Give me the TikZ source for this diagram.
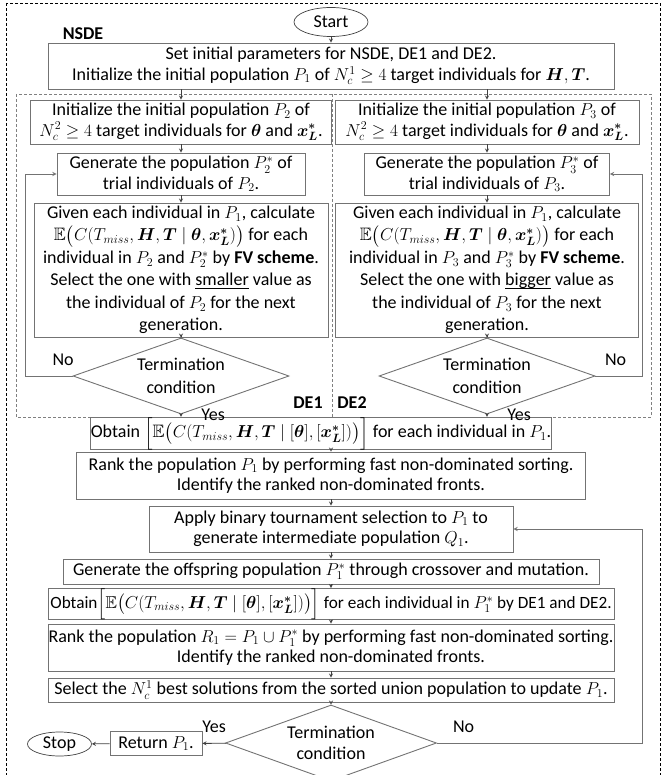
\documentclass[tikz,border=0pt]{standalone}
\usepackage{amsmath,amssymb,bm}
\usepackage{fontspec}
\setmainfont{Carlito}
\usetikzlibrary{shapes.geometric}

\begin{document}
\fontsize{18}{20.5}\selectfont
\begin{tikzpicture}[x=1pt, y=-1pt, >=stealth,
    box/.style={draw=black!55, line width=0.9pt, align=center, inner sep=0pt},
    tall/.style={font=\fontsize{18}{22.5}\selectfont},
    oval/.style={ellipse, draw=black!75, line width=0.7pt, inner sep=0pt},
    cond/.style={diamond, draw=black!55, line width=0.9pt, inner sep=0pt},
    flow/.style={->, draw=black!75, line width=0.8pt},
    back/.style={->, draw=black!55, line width=0.9pt}]
  \useasboundingbox (0,0) rectangle (667,775);
  \draw[densely dashed, line width=0.6pt] (6,3) rectangle (660,800);
  \draw[densely dashed, black!50, line width=0.8pt] (16,94) rectangle (651,417);
  \draw[densely dashed, black!50, line width=0.8pt] (332,94) -- (332,417);

  \node[oval, minimum width=74pt, minimum height=29pt] (start) at (331,22) {Start};
  \node[font=\bfseries] (nsde) at (83,34) {NSDE};
  \node[box, minimum width=566pt, minimum height=46pt] (init) at (331,66) {Set initial parameters for NSDE, DE1 and DE2.\\
    Initialize the initial population $P_1$ of $N_c^1\geq 4$ target individuals for $\bm{H},\bm{T}$.};
  \node[box, minimum width=301pt, minimum height=44pt] (initA) at (181,122) {Initialize the initial population $P_2$ of\\
    $N_c^2\geq 4$ target individuals for $\bm{\theta}$ and $\bm{x_L^*}$.};
  \node[box, minimum width=304pt, minimum height=44pt] (initB) at (487,122) {Initialize the initial population $P_3$ of\\
    $N_c^2\geq 4$ target individuals for $\bm{\theta}$ and $\bm{x_L^*}$.};
  \node[box, minimum width=248pt, minimum height=42pt] (genA) at (181,174) {Generate the population $P_2^*$ of\\trial individuals of $P_2$.};
  \node[box, minimum width=245pt, minimum height=42pt] (genB) at (487,174) {Generate the population $P_3^*$ of\\trial individuals of $P_3$.};
  \node[box, tall, minimum width=294pt, minimum height=134pt] (calcA) at (181,270) {Given each individual in $P_1$, calculate\\
    $\mathbb{E}\big(C(T_{miss},\bm{H},\bm{T}\mid\bm{\theta},\bm{x_L^*})\big)$ for each\\
    individual in $P_2$ and $P_2^*$ by \textbf{FV scheme}.\\
    Select the one with \underline{\smash{smaller}} value as\\
    the individual of $P_2$ for the next\\generation.};
  \node[box, tall, minimum width=303pt, minimum height=134pt] (calcB) at (487,270) {Given each individual in $P_1$, calculate\\
    $\mathbb{E}\big(C(T_{miss},\bm{H},\bm{T}\mid\bm{\theta},\bm{x_L^*})\big)$ for each\\
    individual in $P_3$ and $P_3^*$ by \textbf{FV scheme}.\\
    Select the one with \underline{\smash{bigger}} value as\\
    the individual of $P_3$ for the next\\generation.};
  \node[cond, minimum width=216pt, minimum height=76pt] (termA) at (181,376) {};
  \node[cond, minimum width=216pt, minimum height=76pt] (termB) at (487,376) {};
  \node[align=center] (termAtxt) at (termA) {Termination\\[2pt]condition};
  \node[align=center] (termBtxt) at (termB) {Termination\\[2pt]condition};
  \node[font=\bfseries] (de1) at (308,403) {DE1};
  \node[font=\bfseries] (de2) at (352,403) {DE2};

  \node[box, minimum width=460pt, minimum height=27pt] (obtA) at (321,433.5) {Obtain $\Big[\mathbb{E}\big(C(T_{miss},\bm{H},\bm{T}\mid[\bm{\theta}],[\bm{x_L^*}])\big)\Big]$ for each individual in $P_1$.};
  \node[box, minimum width=509pt, minimum height=47pt] (rankA) at (331,475.5) {Rank the population $P_1$ by performing fast non-dominated sorting.\\
    Identify the ranked non-dominated fronts.};
  \node[box, minimum width=364pt, minimum height=46pt] (apply) at (331,529) {Apply binary tournament selection to $P_1$ to\\
    generate intermediate population $Q_1$.};
  \node[box, minimum width=536pt, minimum height=25pt] (offs) at (331,571.5) {Generate the offspring population $P_1^*$ through crossover and mutation.};
  \node[box, minimum width=566pt, minimum height=26pt, font=\fontsize{17.2}{20}\selectfont] (obtB) at (331,604) {Obtain$\Big[\mathbb{E}\big(C(T_{miss},\bm{H},\bm{T}\mid[\bm{\theta}],[\bm{x_L^*}])\big)\Big]$ for each individual in $P_1^*$ by DE1 and DE2.};
  \node[box, minimum width=566pt, minimum height=47pt] (rankB) at (331,647.5) {Rank the population $R_1=P_1\cup P_1^*$ by performing fast non-dominated sorting.\\
    Identify the ranked non-dominated fronts.};
  \node[box, minimum width=566pt, minimum height=24pt] (select) at (331,690) {Select the $N_c^1$ best solutions from the sorted union population to update $P_1$.};
  \node[cond, minimum width=211pt, minimum height=76pt] (termC) at (331,743) {};
  \node[align=center] (termCtxt) at (termC) {Termination\\condition};
  \node[box, minimum width=92pt, minimum height=24pt] (ret) at (156,743.5) {Return $P_1$.};
  \node[oval, minimum width=64pt, minimum height=24pt] (stop) at (59.5,744) {Stop};

  \draw[flow] (start) -- (init);
  \draw[flow] (init.south -| initA.north) -- (initA);
  \draw[flow] (init.south -| initB.north) -- (initB);
  \draw[flow] (initA) -- (genA);
  \draw[flow] (initB) -- (genB);
  \draw[flow] (genA) -- (calcA);
  \draw[flow] (genB) -- (calcB);
  \draw[flow] (calcA) -- (termA);
  \draw[flow] (calcB) -- (termB);
  \draw[back] (termA.west) -- node[pos=0.2, above=4pt] (noA) {No} ++(-47,0) |- (genA.west);
  \draw[back] (termB.east) -- node[pos=0.43, above=4pt] (noB) {No} ++(47,0) |- (genB.east);
  \draw[flow] (termA.south) -- node[pos=0.1, right=14pt] (yesA) {Yes} (termA.south |- obtA.north);
  \draw[flow] (termB.south) -- node[pos=0.1, right=14pt] (yesB) {Yes} (termB.south |- obtA.north);
  \draw[flow] (obtA.south -| rankA.north) -- (rankA);
  \draw[flow] (rankA) -- (apply);
  \draw[flow] (apply) -- (offs);
  \draw[flow] (offs) -- (obtB);
  \draw[flow] (obtB) -- (rankB);
  \draw[flow] (rankB) -- (select);
  \draw[flow] (select) -- (termC);
  \draw[flow] (termC) -- node[above=4pt] (yesC) {Yes} (ret);
  \draw[flow] (ret) -- (stop);
  \draw[back] (termC.east) -- node[pos=0.13, above=4pt] (noC) {No} ++(205,0) |- (apply.east);
\end{tikzpicture}
\end{document}
